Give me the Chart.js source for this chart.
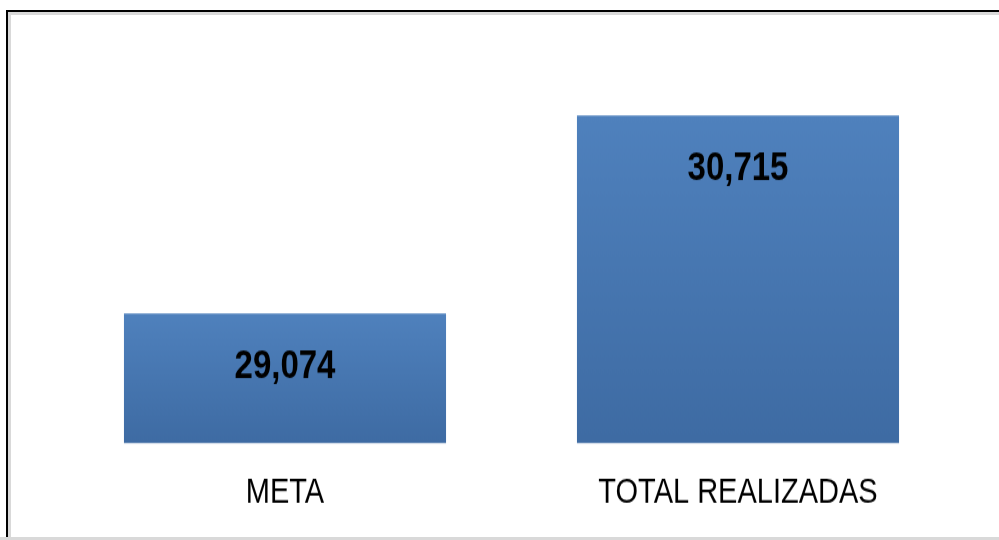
<!DOCTYPE html>
<html>
<head>
<meta charset="utf-8">
<script src="https://cdn.jsdelivr.net/npm/chart.js@4.4.1/dist/chart.umd.min.js"></script>
<style>
  html, body { margin: 0; padding: 0; background: #fff; overflow: hidden; width: 999px; height: 540px; }
  #frame { position: absolute; left: 6px; top: 10px; width: 1100px; height: 540px; border-left: 2px solid #000; border-top: 2px solid #000; }
  #inner { position: absolute; left: 0; top: 0; right: 0; bottom: 0; border-left: 3px solid #d9d9d9; border-top: 3px solid #d9d9d9; }
  #bottomLine { position: absolute; left: 0; top: 537px; width: 999px; height: 3px; background: #d9d9d9; }
  #chart { position: absolute; left: 0; top: 0; z-index: 2; }
</style>
</head>
<body>
<div id="frame"><div id="inner"></div></div>
<div id="bottomLine"></div>
<!-- drawn at 999x450, stretched to 540 tall like the reference -->
<canvas id="chart" width="999" height="450" style="width:999px;height:540px"></canvas>
<script>
"use strict";

// Chart data
const categories = ['META', 'TOTAL REALIZADAS'];
const values = [29074, 30715];
const yMin = 28000;
const yMax = 31000;

// Vertical gradient for each bar, from its top down to the baseline
function barGradient(context) {
  const chart = context.chart;
  if (!chart.chartArea || context.dataIndex === undefined) return '#4f81bd';
  const y = chart.scales.y;
  const top = y.getPixelForValue(values[context.dataIndex]);
  const bottom = y.getPixelForValue(yMin);
  const g = chart.ctx.createLinearGradient(0, top, 0, bottom);
  g.addColorStop(0, '#4f81bd');
  g.addColorStop(1, '#3e6ba3');
  return g;
}

// Value labels inside the bars
const valueLabels = {
  id: 'valueLabels',
  afterDatasetsDraw(chart) {
    const ctx = chart.ctx;
    const meta = chart.getDatasetMeta(0);
    ctx.save();
    ctx.font = 'bold 33px "Liberation Sans", Arial, sans-serif';
    ctx.fillStyle = '#000';
    ctx.textAlign = 'center';
    ctx.textBaseline = 'middle';
    meta.data.forEach((bar, i) => {
      ctx.fillText(values[i].toLocaleString('en-US'), bar.x, bar.y + 45);
    });
    ctx.restore();
  }
};

new Chart(document.getElementById('chart'), {
  type: 'bar',
  data: {
    labels: categories,
    datasets: [{
      data: values,
      backgroundColor: barGradient,
      borderWidth: 0,
      categoryPercentage: 1,
      barPercentage: 0.711
    }]
  },
  options: {
    responsive: false,
    animation: false,
    layout: { padding: { top: 67.5, bottom: 21.4, left: 58.5, right: 34.5 } },
    plugins: {
      legend: { display: false },
      tooltip: { enabled: false }
    },
    scales: {
      x: {
        grid: { display: false, drawTicks: false },
        border: { display: false },
        afterFit(scale) { scale.height = 59.4; },
        ticks: {
          padding: 24.6,
          color: '#000',
          maxRotation: 0,
          font: { family: '"Liberation Sans", Arial, sans-serif', size: 29 }
        }
      },
      y: { display: false, min: yMin, max: yMax }
    }
  },
  plugins: [valueLabels]
});
</script>
</body>
</html>
